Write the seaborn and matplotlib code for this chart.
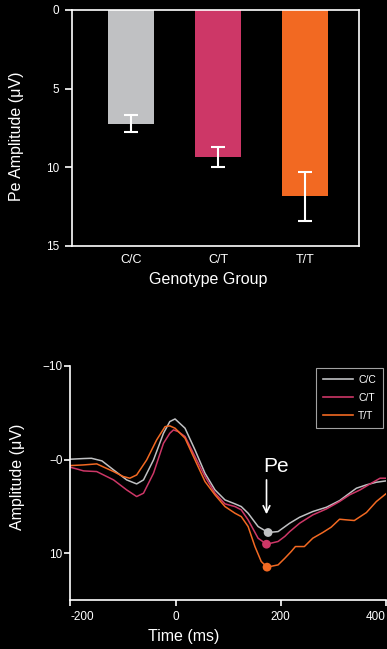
import numpy as np
import pandas as pd
import matplotlib
matplotlib.use("Agg")
import matplotlib.pyplot as plt
import seaborn as sns

# ---------------- data ----------------
groups = ["C/C", "C/T", "T/T"]
pe_mean = [7.24, 9.34, 11.83]
pe_sem = [0.54, 0.64, 1.56]
colors = ["#c0c1c3", "#cd3767", "#f26922"]

cc_time = [-200, -175, -160, -140, -118, -93, -74, -61, -42, -23, -11, -1, 18, 37, 56, 75, 94, 113,
           125, 138, 157, 176, 195, 217, 236, 261, 287, 312, 331, 344, 363, 382, 400]
cc_amp = [-0.04, -0.11, -0.14, 0.14, 1.10, 2.17, 2.60, 2.17, 0.04, -2.81, -4.06, -4.34, -3.35, -1.03,
          1.46, 3.24, 4.31, 4.73, 5.02, 5.73, 7.15, 7.79, 7.69, 6.80, 6.16, 5.55, 5.09, 4.38, 3.59,
          3.06, 2.70, 2.42, 2.28]

ct_time = [-200, -186, -175, -150, -118, -93, -74, -61, -42, -23, -11, -4, 5, 18, 37, 56, 75, 94,
           113, 125, 138, 157, 173, 195, 208, 217, 236, 261, 287, 312, 331, 351, 370, 389, 400]
ct_amp = [0.82, 1.03, 1.21, 1.28, 2.17, 3.24, 3.95, 3.59, 1.46, -1.74, -2.81, -3.17, -2.99, -2.46,
          -0.32, 1.81, 3.59, 4.73, 5.02, 5.37, 6.44, 8.40, 9.04, 8.75, 8.20, 7.70, 6.80, 5.91, 5.27,
          4.48, 3.77, 3.24, 2.60, 1.99, 1.99]

tt_time = [-200, -175, -150, -118, -100, -87, -74, -55, -36, -20, -11, -1, 18, 37, 56, 75, 94, 113,
           125, 138, 151, 163, 174, 195, 208, 220, 228, 245, 261, 280, 296, 312, 325, 340, 363, 382, 400]
tt_amp = [0.64, 0.57, 0.46, 1.28, 1.80, 1.99, 1.64, 0.04, -2.10, -3.52, -3.60, -3.35, -2.28, 0.04,
          2.35, 3.77, 5.02, 5.73, 6.09, 7.15, 9.29, 10.89, 11.49, 11.25, 10.53, 9.82, 9.29, 9.29,
          8.40, 7.79, 7.22, 6.37, 6.44, 6.51, 5.66, 4.48, 3.66]

pe_time = [176, 173, 174]
pe_amp = [7.79, 9.04, 11.49]

x_ticks = [-200, 0, 200, 400]
x_ticklabels = ["-200", "0", "200", "400"]
y_ticks = [-10, 0, 10]
y_ticklabels = ["\u221210", "\u22120", "10"]

# ---------------- style ----------------
plt.rcParams.update({
    "figure.facecolor": "black",
    "axes.facecolor": "black",
    "savefig.facecolor": "black",
    "text.color": "white",
    "axes.labelcolor": "white",
    "xtick.color": "white",
    "ytick.color": "white",
    "axes.edgecolor": "white",
    "font.family": ["Liberation Sans", "DejaVu Sans"],
})

fig = plt.figure(figsize=(3.87, 6.49), dpi=100)

# ---------------- top: bar chart ----------------
ax1 = fig.add_axes([0.186, 0.621, 0.742, 0.3636])
bar_df = pd.DataFrame({"group": groups, "amp": pe_mean})
sns.barplot(data=bar_df, x="group", y="amp", hue="group", palette=colors, width=0.53,
            errorbar=None, legend=False, ax=ax1, saturation=1)
ax1.errorbar(range(len(groups)), pe_mean, yerr=pe_sem, fmt="none", ecolor="white",
             elinewidth=1.5, capsize=5, capthick=1.5)
ax1.set_xlim(-0.68, 2.62)
ax1.set_ylim(15, 0)
ax1.set_yticks([0, 5, 10, 15])
ax1.set_yticklabels(["0", "5", "10", "15"])
for s in ax1.spines.values():
    s.set_color("white")
    s.set_linewidth(1.2)
ax1.tick_params(axis="y", length=5, width=1.2, labelsize=8.5, pad=4)
ax1.tick_params(axis="x", length=0, labelsize=9, pad=6)
ax1.set_xlabel("Genotype Group", fontsize=11.5)
ax1.set_ylabel("Pe Amplitude (\u03bcV)", fontsize=11.5)
ax1.xaxis.set_label_coords(0.474, -0.11)
ax1.yaxis.set_label_coords(-0.167, 0.466)

# ---------------- bottom: ERP waveforms ----------------
ax2 = fig.add_axes([0.182, 0.0755, 0.815, 0.3606])
wave_df = pd.concat([
    pd.DataFrame({"time": cc_time, "amp": cc_amp, "group": "C/C"}),
    pd.DataFrame({"time": ct_time, "amp": ct_amp, "group": "C/T"}),
    pd.DataFrame({"time": tt_time, "amp": tt_amp, "group": "T/T"}),
])
palette = dict(zip(groups, colors))
sns.lineplot(data=wave_df, x="time", y="amp", hue="group", palette=palette, estimator=None,
             linewidth=1.1, ax=ax2)
pe_df = pd.DataFrame({"time": pe_time, "amp": pe_amp, "group": groups})
sns.scatterplot(data=pe_df, x="time", y="amp", hue="group", palette=palette, s=40,
                edgecolor="none", legend=False, ax=ax2, zorder=5)
ax2.set_xlim(-200, 400)
ax2.set_ylim(15, -10)
ax2.set_xticks(x_ticks)
ax2.set_xticklabels(x_ticklabels)
xl = ax2.get_xticklabels()
xl[0].set_horizontalalignment("left")
xl[-1].set_horizontalalignment("right")
ax2.set_yticks(y_ticks)
ax2.set_yticklabels(y_ticklabels)
ax2.spines["top"].set_visible(False)
ax2.spines["right"].set_visible(False)
for s in ("left", "bottom"):
    ax2.spines[s].set_color("white")
    ax2.spines[s].set_linewidth(1.2)
ax2.tick_params(axis="both", length=4, width=1.2, labelsize=8.5)
ax2.tick_params(axis="y", pad=1.5)
ax2.tick_params(axis="x", pad=4)
ax2.set_xlabel("Time (ms)", fontsize=11.5)
ax2.set_ylabel("Amplitude (\u03bcV)", fontsize=11.5)
ax2.xaxis.set_label_coords(0.36, -0.124)
ax2.yaxis.set_label_coords(-0.144, 0.526)

ax2.annotate("", xy=(173, 5.84), xytext=(173, 2.17),
             arrowprops=dict(arrowstyle="->", color="white", lw=1.2, mutation_scale=12,
                             shrinkA=0, shrinkB=0))
ax2.text(192, 1.28, "Pe", fontsize=15, color="white", ha="center", va="baseline")

leg = ax2.legend(loc="upper right", bbox_to_anchor=(0.99, 0.991), fontsize=7.5,
                 frameon=True, fancybox=False, handlelength=2.9, handletextpad=0.5,
                 labelspacing=0.78, borderpad=0.65, borderaxespad=0)
leg.get_frame().set_facecolor("black")
leg.get_frame().set_edgecolor("#cccccc")
leg.get_frame().set_linewidth(0.8)
for t in leg.get_texts():
    t.set_color("white")
for h in leg.get_lines():
    h.set_linewidth(1.2)

fig.savefig("out.png", dpi=100)
